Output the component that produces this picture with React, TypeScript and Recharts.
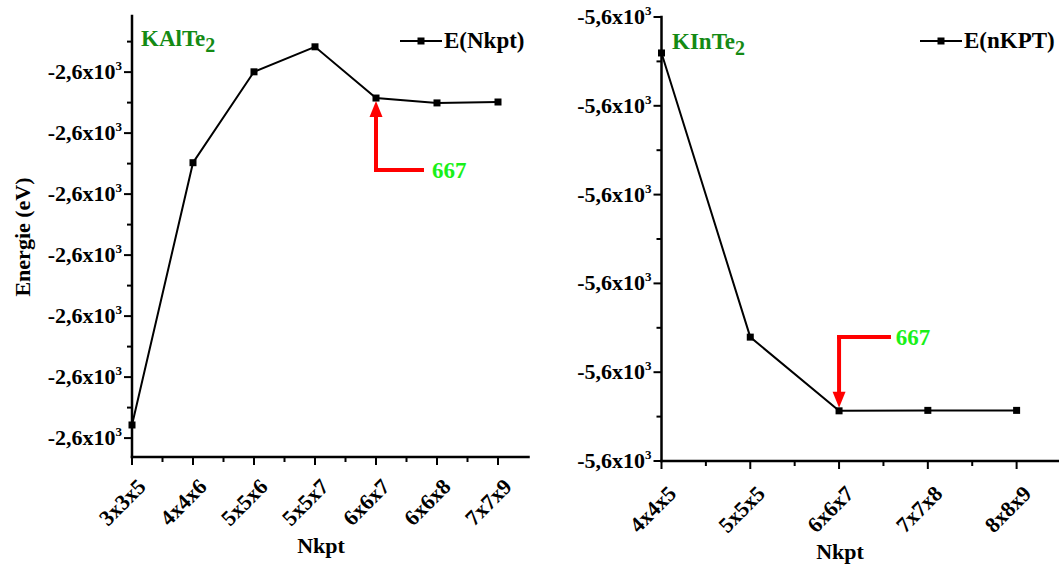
import React from 'react';
import {
  LineChart,
  Line,
  XAxis,
  YAxis,
  ReferenceLine,
  ReferenceDot,
  Legend
} from 'recharts';

// KAlTe2 convergence test
const kalteCategories = ['3x3x5', '4x4x6', '5x5x6', '5x5x7', '6x6x7', '6x6x8', '7x7x9'];
const kalteEnergy = [-2616.557, -2615.697, -2615.399, -2615.317, -2615.485, -2615.501, -2615.498];
const kalteYMajor = [-2616.6, -2616.4, -2616.2, -2616.0, -2615.8, -2615.6, -2615.4];
const kalteYMinor = [-2616.5, -2616.3, -2616.1, -2615.9, -2615.7, -2615.5, -2615.3];
const kalteXMinor = [0.5, 1.5, 2.5, 3.5, 4.5, 5.5];

// KInTe2 convergence test
const kinteCategories = ['4x4x5', '5x5x5', '6x6x7', '7x7x8', '8x8x9'];
const kinteEnergy = [-5600.081, -5600.721, -5600.887, -5600.886, -5600.886];
const kinteYMajor = [-5601.0, -5600.8, -5600.6, -5600.4, -5600.2, -5600.0];
const kinteYMinor = [-5600.9, -5600.7, -5600.5, -5600.3, -5600.1];
const kinteXMinor = [0.5, 1.5, 2.5, 3.5];

const FONT = '"Liberation Serif", "Times New Roman", serif';
const RED = '#ff0000';
const NOTE_GREEN = '#19f019';
const TITLE_GREEN = '#148a14';

const serif = (size: number, color = '#000'): React.CSSProperties => ({
  fontFamily: FONT,
  fontWeight: 700,
  fontSize: size,
  fill: color
});

const squareDot = (p: any) => (
  <rect key={`dot-${p.index}`} x={p.cx - 3.5} y={p.cy - 3.5} width={7} height={7} fill="#000" />
);

interface PanelProps {
  categories: string[];
  energy: number[];
  xMinor: number[];
  yMajor: number[];
  yMinor: number[];
  xDomain: [number, number];
  yDomain: [number, number];
  left: number;
  margin: { top: number; right: number; bottom: number; left: number };
  yAxisWidth: number;
  xAxisHeight: number;
  mantissa: string;
  labelDx: number;
  labelDy: number;
  legendName: string;
  legendLeft: number;
  shaft: { x: number; y: number }[][];
  tip: { x: number; y: number };
  tipUp: boolean;
  note: { x: number; y: number };
}

const Panel: React.FC<PanelProps> = (props) => {
  const {
    categories, energy, xMinor, yMajor, yMinor, xDomain, yDomain, left, margin,
    yAxisWidth, xAxisHeight, mantissa, labelDx, labelDy, legendName, legendLeft,
    shaft, tip, tipUp, note
  } = props;

  const data = categories.map((c, i) => ({ x: i, name: c, e: energy[i] }));
  const xTicks = [...categories.map((_, i) => i), ...xMinor].sort((a, b) => a - b);
  const yTicks = [...yMajor, ...yMinor].sort((a, b) => a - b);
  const majorY = new Set(yMajor);

  const bottomTick = (p: any) => {
    const v = p.payload.value;
    const major = Number.isInteger(v);
    const tx = p.x + labelDx;
    const ty = p.y + labelDy;
    return (
      <g>
        <line x1={p.x} y1={p.y} x2={p.x} y2={p.y + (major ? 8 : 5)} stroke="#000" strokeWidth={2} />
        {major && (
          <text x={tx} y={ty} textAnchor="end" transform={`rotate(-45 ${tx} ${ty})`} style={serif(22)}>
            {categories[v]}
          </text>
        )}
      </g>
    );
  };

  const topTick = (p: any) => {
    const major = Number.isInteger(p.payload.value);
    return <line x1={p.x} y1={p.y} x2={p.x} y2={p.y + (major ? 8 : 5)} stroke="#000" strokeWidth={2} />;
  };

  const leftTick = (p: any) => {
    const major = majorY.has(p.payload.value);
    return (
      <g>
        <line x1={p.x} y1={p.y} x2={p.x - (major ? 8 : 5)} y2={p.y} stroke="#000" strokeWidth={2} />
        {major && (
          <text x={p.x - 10} y={p.y + 7} textAnchor="end" style={serif(22)}>
            <tspan>{mantissa}</tspan>
            <tspan dy={-9} style={{ fontSize: 13 }}>3</tspan>
          </text>
        )}
      </g>
    );
  };

  const rightTick = (p: any) => {
    const major = majorY.has(p.payload.value);
    return <line x1={p.x} y1={p.y} x2={p.x - (major ? 8 : 5)} y2={p.y} stroke="#000" strokeWidth={2} />;
  };

  const axisLine = { stroke: '#000', strokeWidth: 2.5, strokeLinecap: 'square' as const };

  return (
    <div style={{ position: 'absolute', left, top: 0 }}>
      <LineChart width={540} height={568} data={data} margin={margin}>
        <XAxis
          dataKey="x"
          type="number"
          domain={xDomain}
          ticks={xTicks}
          interval={0}
          height={xAxisHeight}
          tickSize={0}
          tickMargin={0}
          tickLine={false}
          axisLine={axisLine}
          tick={bottomTick}
        />
        <XAxis
          xAxisId="top"
          orientation="top"
          dataKey="x"
          type="number"
          domain={xDomain}
          ticks={xTicks}
          interval={0}
          height={0}
          tickSize={0}
          tickMargin={0}
          tickLine={false}
          axisLine={axisLine}
          tick={topTick}
        />
        <YAxis
          type="number"
          domain={yDomain}
          ticks={yTicks}
          interval={0}
          width={yAxisWidth}
          tickSize={0}
          tickMargin={0}
          tickLine={false}
          axisLine={axisLine}
          tick={leftTick}
        />
        <YAxis
          yAxisId="right"
          orientation="right"
          type="number"
          domain={yDomain}
          ticks={yTicks}
          interval={0}
          width={0}
          tickSize={0}
          tickMargin={0}
          tickLine={false}
          axisLine={axisLine}
          tick={rightTick}
        />
        {shaft.map((seg, i) => (
          <ReferenceLine
            key={`shaft-${i}`}
            segment={seg as any}
            stroke={RED}
            strokeWidth={4}
            strokeLinecap="square"
          />
        ))}
        <ReferenceDot
          x={tip.x}
          y={tip.y}
          shape={(p: any) => {
            const s = tipUp ? 1 : -1;
            const pts = `${p.cx},${p.cy + 3 * s} ${p.cx - 6.5},${p.cy + 19 * s} ${p.cx + 6.5},${p.cy + 19 * s}`;
            return <polygon points={pts} fill={RED} />;
          }}
        />
        <ReferenceDot
          x={note.x}
          y={note.y}
          shape={(p: any) => (
            <text x={p.cx} y={p.cy + 8} style={serif(23, NOTE_GREEN)}>
              667
            </text>
          )}
        />
        <Line
          type="linear"
          dataKey="e"
          name={legendName}
          stroke="#000"
          strokeWidth={2}
          dot={squareDot}
          isAnimationActive={false}
        />
        <Legend
          layout="vertical"
          align="center"
          verticalAlign="middle"
          wrapperStyle={{ left: legendLeft, top: 29, width: 'auto' }}
          content={() => (
            <div style={{ display: 'flex', alignItems: 'center', fontFamily: FONT, fontWeight: 700, fontSize: 23, lineHeight: '24px', whiteSpace: 'nowrap' }}>
              <svg width={42} height={12} style={{ marginRight: 2 }}>
                <line x1={0} y1={6} x2={42} y2={6} stroke="#000" strokeWidth={2} />
                <rect x={17.5} y={2.5} width={7} height={7} fill="#000" />
              </svg>
              <span>{legendName}</span>
            </div>
          )}
        />
      </LineChart>
    </div>
  );
};

export default function App() {
  return (
    <div style={{ position: 'absolute', left: 0, top: 0, width: 1059, height: 568, overflow: 'hidden', background: '#fff' }}>
      <Panel
        categories={kalteCategories}
        energy={kalteEnergy}
        xMinor={kalteXMinor}
        yMajor={kalteYMajor}
        yMinor={kalteYMinor}
        xDomain={[0, 6.5]}
        yDomain={[-2616.662, -2615.216]}
        left={0}
        margin={{ top: 16, right: 11.5, bottom: 0, left: 0 }}
        yAxisWidth={132}
        xAxisHeight={111}
        mantissa="-2,6x10"
        labelDx={15}
        labelDy={31}
        legendName="E(Nkpt)"
        legendLeft={400}
        shaft={[
          [{ x: 4, y: -2615.721 }, { x: 4, y: -2615.52 }],
          [{ x: 4, y: -2615.721 }, { x: 4.754, y: -2615.721 }]
        ]}
        tip={{ x: 4, y: -2615.485 }}
        tipUp={true}
        note={{ x: 4.92, y: -2615.721 }}
      />
      <Panel
        categories={kinteCategories}
        energy={kinteEnergy}
        xMinor={kinteXMinor}
        yMajor={kinteYMajor}
        yMinor={kinteYMinor}
        xDomain={[0, 4.5]}
        yDomain={[-5601.0, -5600.0]}
        left={540}
        margin={{ top: 17, right: 19, bottom: 0, left: 0 }}
        yAxisWidth={121.5}
        xAxisHeight={107}
        mantissa="-5,6x10"
        labelDx={16}
        labelDy={34}
        legendName="E(nKPT)"
        legendLeft={380}
        shaft={[
          [{ x: 2, y: -5600.721 }, { x: 2, y: -5600.86 }],
          [{ x: 2, y: -5600.721 }, { x: 2.562, y: -5600.721 }]
        ]}
        tip={{ x: 2, y: -5600.887 }}
        tipUp={false}
        note={{ x: 2.64, y: -5600.721 }}
      />
      <svg width={1059} height={568} style={{ position: 'absolute', left: 0, top: 0, pointerEvents: 'none' }}>
        <text x={141} y={46} style={serif(23, TITLE_GREEN)}>
          KAlTe<tspan dy={6} style={{ fontSize: 20 }}>2</tspan>
        </text>
        <text x={672} y={49} style={serif(23, TITLE_GREEN)}>
          KInTe<tspan dy={6} style={{ fontSize: 20 }}>2</tspan>
        </text>
        <text x={30} y={237} textAnchor="middle" transform="rotate(-90 30 237)" style={serif(22)}>
          Energie (eV)
        </text>
        <text x={321} y={553} textAnchor="middle" style={serif(22)}>
          Nkpt
        </text>
        <text x={840} y={559} textAnchor="middle" style={serif(22)}>
          Nkpt
        </text>
      </svg>
    </div>
  );
}
